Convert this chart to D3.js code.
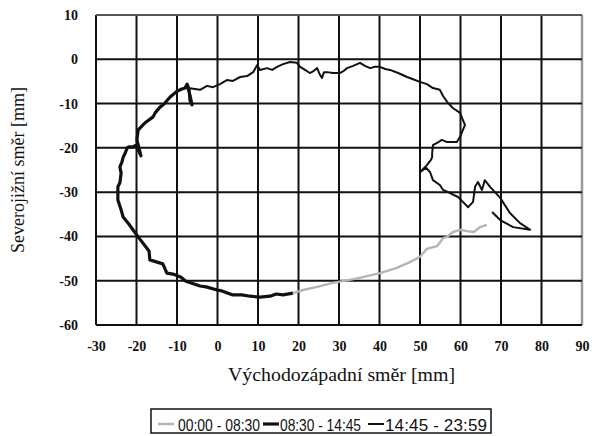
<!DOCTYPE html>
<html>
<head>
<meta charset="utf-8">
<script src="https://cdn.jsdelivr.net/npm/d3@7"></script>
<style>
  body { margin: 0; background: #fff; }
  .aText { font-family: "Liberation Serif", "Times New Roman", serif; font-size: 18px; fill: #111; }
  .legText { font-family: "Liberation Sans", Arial, sans-serif; font-size: 17px; fill: #111; }
  .axisLbl text { font-family: "Liberation Serif", "Times New Roman", serif; font-weight: bold; font-size: 14px; fill: #111; }
</style>
</head>
<body>
<div id="chart"></div>
<script>
// Axis ticks
var xTicks = [-30, -20, -10, 0, 10, 20, 30, 40, 50, 60, 70, 80, 90];
var yTicks = [10, 0, -10, -20, -30, -40, -50, -60];

// Series: [east-west, north-south] in mm
// 00:00 - 08:30 (gray)
var series1 = [[66.5,-37.4],[64.8,-37.9],[63.3,-39.0],[61.6,-38.8],[59.9,-38.5],[58.1,-39.0],
  [56.7,-40.1],[55.7,-40.4],[54.2,-42.2],[51.7,-42.8],[50.0,-44.6],[47.5,-45.8],[44.3,-47.1],
  [40.1,-48.3],[35.9,-49.2],[32.7,-49.8],[28.5,-50.5],[24.6,-51.4],[21.1,-52.1],[18.6,-52.8]];

// 08:30 - 14:45 (thick black)
var series2 = [[18.6,-52.8],[16.2,-53.2],[14.5,-53.0],[13.0,-53.5],[10.5,-53.7],[8.0,-53.5],[6.0,-53.2],
  [3.8,-53.2],[1.1,-52.3],[-0.1,-52.1],[-2.8,-51.4],[-4.3,-51.2],[-7.8,-50.1],[-9.0,-49.2],[-11.0,-48.5],
  [-12.5,-48.3],[-13.5,-46.2],[-16.7,-45.3],[-16.9,-43.3],[-19.6,-40.1],[-21.9,-37.2],[-23.3,-35.6],
  [-23.8,-34.0],[-24.6,-31.8],[-24.6,-30.2],[-24.6,-28.8],[-24.1,-27.9],[-23.8,-25.7],[-24.1,-24.3],
  [-23.6,-23.2],[-23.3,-22.1],[-22.8,-21.2],[-22.3,-20.0],[-21.9,-19.8],[-20.9,-19.8],[-20.1,-19.4],
  [-18.9,-21.8],[-19.9,-18.2],[-19.6,-16.0],[-18.4,-14.8],[-17.7,-14.2],[-15.9,-13.0],[-15.4,-12.1],
  [-14.2,-10.8],[-13.2,-10.1],[-11.7,-8.5],[-10.0,-7.2],[-8.8,-6.7],[-8.0,-6.5],[-7.5,-5.6],
  [-7.0,-6.9],[-6.8,-9.2],[-6.3,-10.3],[-6.8,-8.1],[-7.3,-6.5]];

// 14:45 - 23:59 (thin black)
var series3 = [[-7.3,-6.5],[-4.3,-6.9],[-2.6,-6.0],[-1.1,-6.3],[0.6,-5.6],[2.3,-4.7],[3.8,-4.9],
  [5.6,-4.0],[7.3,-3.8],[8.8,-2.9],[9.8,-1.3],[10.5,-2.4],[12.2,-2.0],[13.5,-2.4],[14.7,-1.7],
  [16.2,-1.1],[17.9,-0.6],[19.6,-0.8],[20.4,-1.7],[21.6,-2.4],[22.8,-3.1],[23.8,-2.6],[24.6,-2.0],
  [25.3,-3.5],[25.8,-4.2],[26.3,-2.9],[27.0,-2.9],[28.5,-3.1],[30.2,-3.1],[31.2,-2.6],[32.0,-2.0],
  [33.5,-1.5],[35.2,-0.8],[36.4,-1.5],[37.7,-2.0],[38.9,-1.7],[40.1,-1.7],[41.4,-2.2],[42.6,-2.4],
  [44.6,-3.1],[46.8,-4.0],[48.3,-4.5],[50.0,-5.1],[51.7,-5.6],[53.2,-6.5],[54.9,-6.9],[55.7,-8.3],
  [56.7,-9.6],[58.1,-11.0],[59.9,-12.1],[60.4,-13.3],[61.1,-14.8],[60.4,-16.4],[59.9,-17.5],
  [59.1,-18.7],[57.4,-18.7],[56.7,-18.7],[55.4,-18.2],[54.2,-18.9],[53.2,-19.4],[53.0,-21.2],
  [53.0,-22.1],[52.7,-22.7],[51.7,-23.9],[50.0,-25.5],[51.5,-24.5],[52.5,-25.5],[53.2,-27.3],
  [54.9,-28.4],[55.7,-29.5],[57.4,-30.2],[59.4,-31.1],[60.6,-32.2],[61.9,-33.4],[63.1,-32.2],
  [63.6,-28.8],[64.3,-27.7],[65.3,-29.5],[66.0,-27.3],[67.3,-28.8],[69.8,-31.3],[72.2,-34.7],
  [74.7,-37.0],[77.2,-38.5],[73.0,-37.9],[69.8,-36.3],[67.8,-34.5]];

var legendLabels = ["00:00 - 08:30", "08:30 - 14:45", "14:45 - 23:59"];

// Set up chart
var svgWidth = 595;
var svgHeight = 436;
var margin = { top: 15, right: 13, bottom: 111, left: 96 };
var width = svgWidth - margin.left - margin.right;
var height = svgHeight - margin.top - margin.bottom;

var svg = d3.select("#chart")
  .append("svg")
  .attr("width", svgWidth)
  .attr("height", svgHeight);

var chartGroup = svg.append("g")
  .attr("transform", `translate(${margin.left}, ${margin.top})`);

var x = d3.scaleLinear().domain([-30, 90]).range([0, width]);
var y = d3.scaleLinear().domain([-60, 10]).range([height, 0]);

// Grid lines
chartGroup.selectAll(".vgrid")
  .data(xTicks)
  .enter()
  .append("line")
  .attr("x1", d => x(d)).attr("x2", d => x(d))
  .attr("y1", 0).attr("y2", height)
  .attr("stroke", d => d === 90 ? "#999" : "#111")
  .attr("stroke-width", d => d === 90 ? 2.5 : 2);

chartGroup.selectAll(".hgrid")
  .data(yTicks)
  .enter()
  .append("line")
  .attr("x1", 0).attr("x2", width)
  .attr("y1", d => y(d)).attr("y2", d => y(d))
  .attr("stroke", d => d === 10 ? "#555" : "#111")
  .attr("stroke-width", 2);

// Axes (labels only), plain hyphen for negatives
var bottomAxis = d3.axisBottom(x).tickValues(xTicks).tickSize(0).tickPadding(16).tickFormat(d => String(d));
var leftAxis = d3.axisLeft(y).tickValues(yTicks).tickSize(0).tickPadding(18).tickFormat(d => String(d));

chartGroup.append("g")
  .attr("class", "axisLbl")
  .attr("transform", `translate(0, ${height})`)
  .call(bottomAxis)
  .call(g => g.select(".domain").remove());

chartGroup.append("g")
  .attr("class", "axisLbl")
  .call(leftAxis)
  .call(g => g.select(".domain").remove());

// Lines
var line = d3.line().x(d => x(d[0])).y(d => y(d[1]));

chartGroup.append("path")
  .datum(series1)
  .attr("d", line)
  .attr("fill", "none")
  .attr("stroke", "#b4b4b4")
  .attr("stroke-width", 2.4)
  .attr("stroke-linejoin", "round");

chartGroup.append("path")
  .datum(series2)
  .attr("d", line)
  .attr("fill", "none")
  .attr("stroke", "#111")
  .attr("stroke-width", 3.2)
  .attr("stroke-linejoin", "round");

chartGroup.append("path")
  .datum(series3)
  .attr("d", line)
  .attr("fill", "none")
  .attr("stroke", "#111")
  .attr("stroke-width", 2)
  .attr("stroke-linejoin", "round");

// Axis titles
svg.append("text")
  .attr("class", "aText")
  .attr("x", 228)
  .attr("y", 381)
  .attr("textLength", 227)
  .attr("lengthAdjust", "spacingAndGlyphs")
  .text("Východozápadní směr [mm]");

svg.append("text")
  .attr("class", "aText")
  .attr("transform", `translate(24, ${margin.top + height / 2}) rotate(-90)`)
  .attr("text-anchor", "middle")
  .text("Severojižní směr [mm]");

// Legend
var legend = svg.append("g");
legend.append("rect")
  .attr("x", 151).attr("y", 409)
  .attr("width", 340).attr("height", 24)
  .attr("fill", "#fff")
  .attr("stroke", "#111")
  .attr("stroke-width", 1.5);

var legItems = [
  { sx: 158, tx: 178, tw: 82, adj: "spacingAndGlyphs", color: "#b4b4b4", w: 2.4 },
  { sx: 263, tx: 280, tw: 81, adj: "spacingAndGlyphs", color: "#111", w: 3.2 },
  { sx: 368, tx: 385, tw: 102, adj: "spacing", color: "#111", w: 2 }
];

legend.selectAll(".legLine")
  .data(legItems)
  .enter()
  .append("line")
  .attr("x1", d => d.sx).attr("x2", d => d.sx + 16)
  .attr("y1", 424).attr("y2", 424)
  .attr("stroke", d => d.color)
  .attr("stroke-width", d => d.w);

legend.selectAll(".legText")
  .data(legItems)
  .enter()
  .append("text")
  .attr("class", "legText")
  .attr("x", d => d.tx)
  .attr("y", 431)
  .attr("textLength", d => d.tw)
  .attr("lengthAdjust", d => d.adj)
  .text((d, i) => legendLabels[i]);
</script>
</body>
</html>
